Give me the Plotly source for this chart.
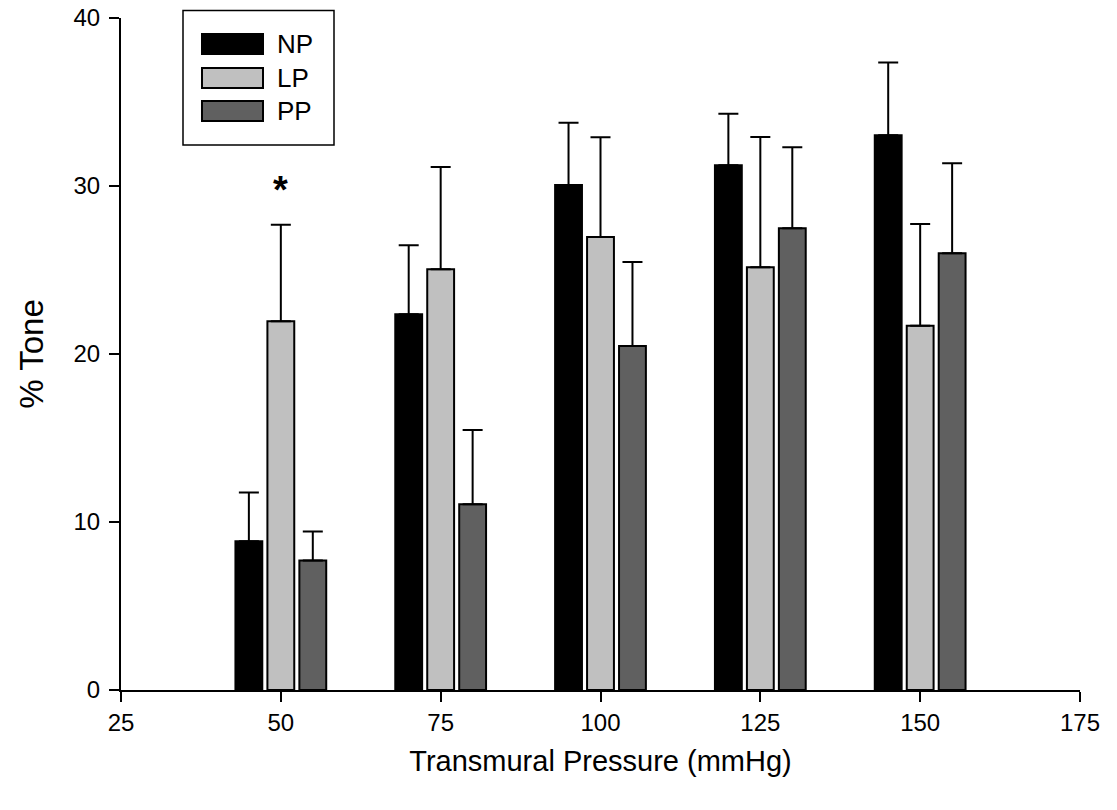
import plotly.graph_objects as go

# ---- data ----
pressures = [50, 75, 100, 125, 150]
series_names = ["NP", "LP", "PP"]
np_values = [8.85, 22.37, 30.06, 31.24, 33.02]
np_errors = [2.9, 4.1, 3.7, 3.06, 4.33]
lp_values = [21.95, 25.04, 26.97, 25.17, 21.68]
lp_errors = [5.75, 6.09, 5.93, 7.75, 6.06]
pp_values = [7.71, 11.06, 20.47, 27.48, 25.99]
pp_errors = [1.73, 4.41, 5.0, 4.82, 5.37]
x_ticks = [25, 50, 75, 100, 125, 150, 175]
y_ticks = [0, 10, 20, 30, 40]
sig_marker_pressure = 50
sig_marker_text = "<b>*</b>"

values = [np_values, lp_values, pp_values]
errors = [np_errors, lp_errors, pp_errors]
colors = ["#000000", "#c0c0c0", "#606060"]
offsets = [-7.1, -2.1, 2.9]
bar_w = 4.2

FONT = "Liberation Sans, Arial, sans-serif"

fig = go.Figure()
for name, v, e, c, off in zip(series_names, values, errors, colors, offsets):
    fig.add_trace(go.Bar(
        x=pressures, y=v, name=name,
        offset=off, width=bar_w,
        marker=dict(color=c, line=dict(color="#000000", width=2)),
        error_y=dict(type="data", symmetric=False, array=e,
                     arrayminus=[0] * len(e),
                     color="#000000", thickness=2, width=10),
        showlegend=False,
    ))

# significance marker above LP bar at 50 mmHg
i = pressures.index(sig_marker_pressure)
fig.add_annotation(x=sig_marker_pressure, y=lp_values[i] + lp_errors[i] + 0.7,
                   text=sig_marker_text, showarrow=False, yanchor="bottom",
                   font=dict(family=FONT, size=38, color="#000000"))

# custom legend (box + swatches + labels), paper coordinates
L, R, T, B = 121, 1080, 18, 690
def px(x):
    return (x - L) / (R - L)
def py(y):
    return (B - y) / (B - T)

fig.add_shape(type="rect", xref="paper", yref="paper",
              x0=px(183), x1=px(334), y0=py(145), y1=py(10.5),
              line=dict(color="#000000", width=1.5), fillcolor="white", layer="above")
sw_tops = [34, 68, 101]
for name, c, top in zip(series_names, colors, sw_tops):
    fig.add_shape(type="rect", xref="paper", yref="paper",
                  x0=px(202), x1=px(263), y0=py(top + 20), y1=py(top),
                  line=dict(color="#000000", width=2), fillcolor=c, layer="above")
    fig.add_annotation(xref="paper", yref="paper", x=px(275), y=py(top + 10),
                       text=name, showarrow=False, xanchor="left", yanchor="middle",
                       font=dict(family=FONT, size=26, color="#000000"))

fig.update_layout(
    width=1117, height=810,
    margin=dict(l=L, r=1117 - R, t=T, b=810 - B, autoexpand=False),
    paper_bgcolor="white", plot_bgcolor="white",
    barmode="overlay",
    font=dict(family=FONT, color="#000000"),
    xaxis=dict(range=[25, 175], tickvals=x_ticks, ticktext=[str(t) for t in x_ticks],
               showgrid=False, zeroline=False, showline=True, linecolor="#000000",
               linewidth=2, ticks="outside", ticklen=10, tickwidth=1.5,
               tickcolor="#000000", tickfont=dict(size=24, family=FONT),
               ticklabelstandoff=0, automargin=False,
               title=dict(text="Transmural Pressure (mmHg)", standoff=16,
                          font=dict(size=29, family=FONT))),
    yaxis=dict(range=[0, 40], tickvals=y_ticks, showgrid=False, zeroline=False,
               showline=True, linecolor="#000000", linewidth=2, ticks="outside",
               ticklen=10, tickwidth=1.5, tickcolor="#000000",
               tickfont=dict(size=24, family=FONT), ticklabelstandoff=4,
               automargin=False,
               title=dict(text="% Tone", standoff=20,
                          font=dict(size=33, family=FONT))),
)

fig.write_html("out.html")
